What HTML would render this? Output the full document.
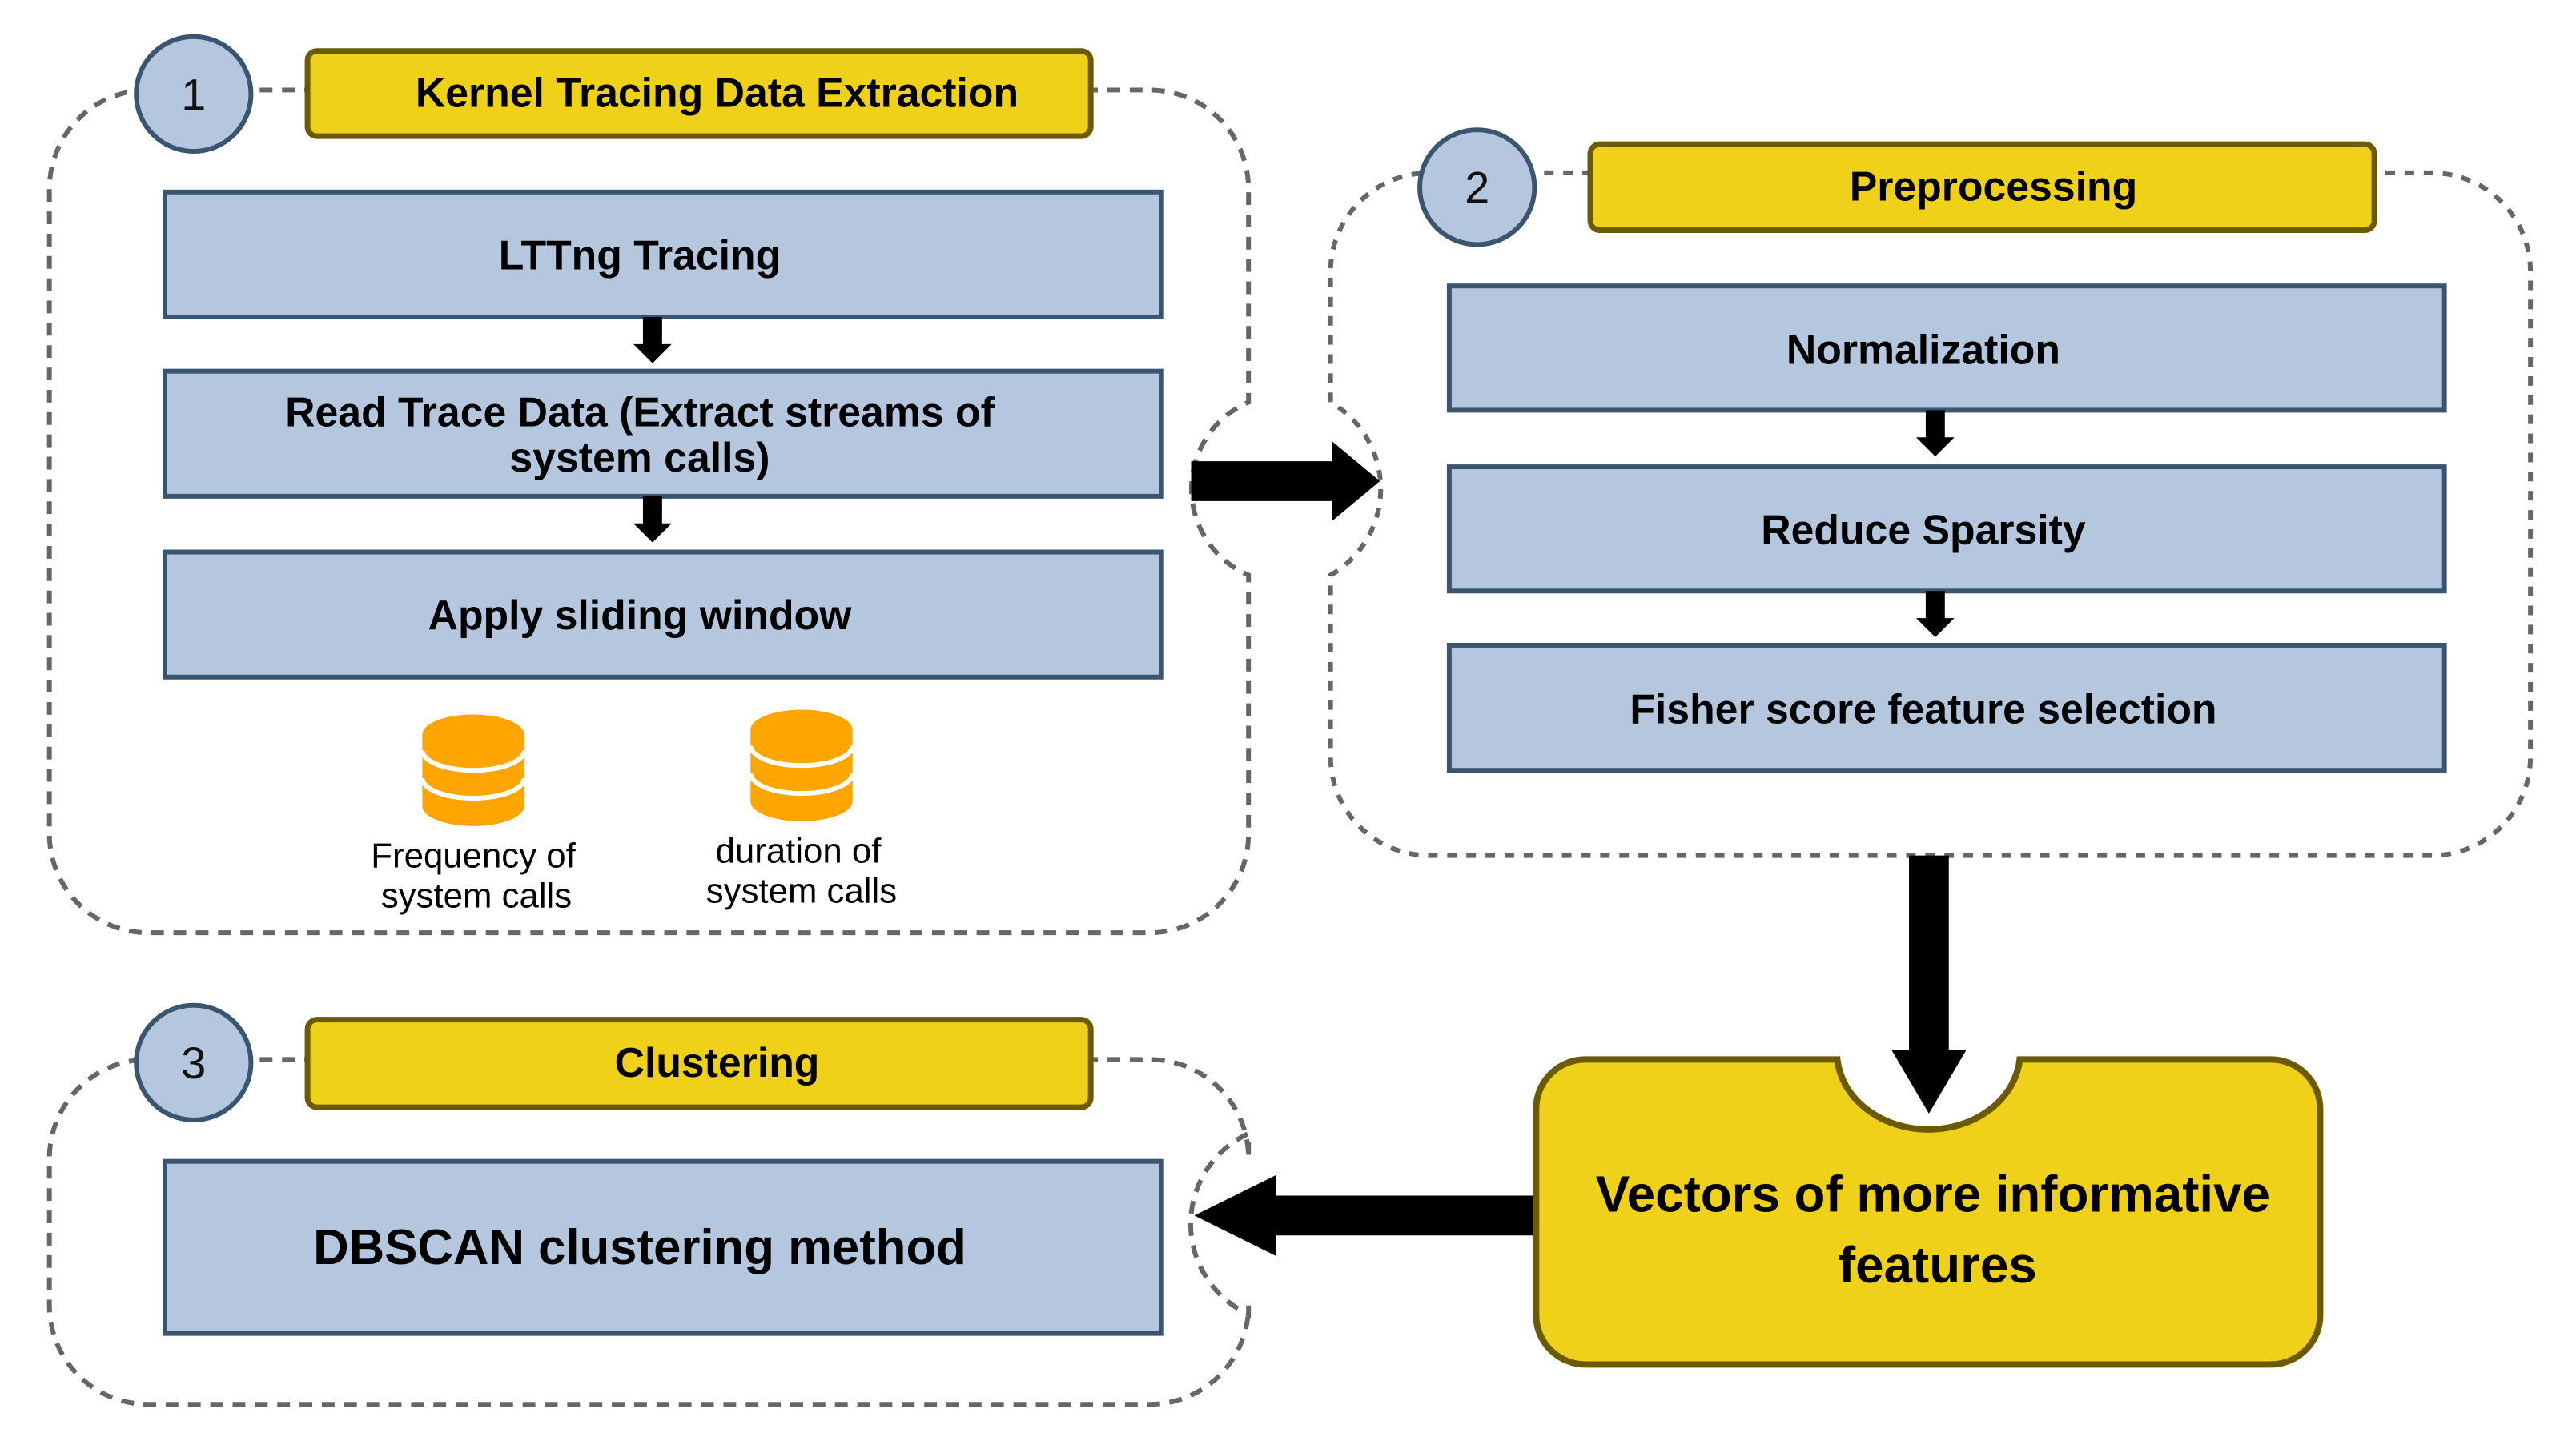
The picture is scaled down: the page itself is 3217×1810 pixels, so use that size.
<!DOCTYPE html>
<html><head><meta charset="utf-8"><style>
html,body{margin:0;padding:0;background:#fff;}
svg{display:block;}
text{font-family:"Liberation Sans",Arial,sans-serif;}
</style></head><body>
<svg width="3217" height="1810" viewBox="0 0 3217 1810" xmlns="http://www.w3.org/2000/svg">
<g transform="scale(0.995)">
<g fill="none" stroke="#666" stroke-width="6">
<path stroke-dasharray="16,12" d="M186,113 H1443 A124,124 0 0 1 1567,237 V505 A118,118 0 0 0 1567,722 V1047 A124,124 0 0 1 1443,1171 H186 A124,124 0 0 1 62,1047 V237 A124,124 0 0 1 186,113 Z"/>
<path stroke-dasharray="12,12" d="M1794,217 H3052 A124,124 0 0 1 3176,341 V950 A124,124 0 0 1 3052,1074 H1794 A124,124 0 0 1 1670,950 V722 A125,125 0 0 0 1670,505 V341 A124,124 0 0 1 1794,217 Z"/>
<path stroke-dasharray="16,12" d="M186,1330 H1443 A124,124 0 0 1 1567,1454 V1423 A125,125 0 0 0 1567,1650 V1639 A124,124 0 0 1 1443,1763 H186 A124,124 0 0 1 62,1639 V1454 A124,124 0 0 1 186,1330 Z"/>
</g>
<g fill="#b4c7de" stroke="#3a556f" stroke-width="6">
<circle cx="243" cy="118" r="72"/>
<circle cx="1854" cy="235" r="72"/>
<circle cx="243" cy="1334" r="72"/>
</g>
<g font-size="56" text-anchor="middle" fill="#111">
<text x="243" y="138">1</text>
<text x="1854" y="255">2</text>
<text x="243" y="1354">3</text>
</g>
<g fill="#f0d11a" stroke="#6b5a00" stroke-width="7">
<rect x="386" y="64" width="983" height="107" rx="12"/>
<rect x="1996" y="181" width="984" height="108" rx="12"/>
<rect x="386" y="1280" width="983" height="110" rx="12"/>
</g>
<g font-size="52" font-weight="bold" text-anchor="middle" fill="#000">
<text x="900" y="134">Kernel Tracing Data Extraction</text>
<text x="2502" y="252">Preprocessing</text>
<text x="900" y="1352">Clustering</text>
</g>
<g fill="#b4c7de" stroke="#3a556f" stroke-width="6">
<rect x="207" y="241" width="1251" height="157"/>
<rect x="207" y="466" width="1251" height="157"/>
<rect x="207" y="693" width="1251" height="157"/>
<rect x="1819" y="359" width="1249" height="156"/>
<rect x="1819" y="586" width="1249" height="156"/>
<rect x="1819" y="810" width="1249" height="157"/>
<rect x="207" y="1458" width="1251" height="216"/>
</g>
<g font-size="52" font-weight="bold" text-anchor="middle" fill="#000">
<text x="803" y="338">LTTng Tracing</text>
<text x="803" y="535">Read Trace Data (Extract streams of</text>
<text x="803" y="592">system calls)</text>
<text x="803" y="790">Apply sliding window</text>
<text x="2414" y="457">Normalization</text>
<text x="2414" y="683">Reduce Sparsity</text>
<text x="2414" y="908">Fisher score feature selection</text>
<text x="803" y="1587" font-size="62">DBSCAN clustering method</text>
</g>
<g fill="#000">
<path d="M807,398 h24 v34 h12 l-24,24 l-24,-24 h12 z"/>
<path d="M807,623 h24 v34 h12 l-24,24 l-24,-24 h12 z"/>
<path d="M2417,515 h24 v34 h12 l-24,24 l-24,-24 h12 z"/>
<path d="M2417,742 h24 v34 h12 l-24,24 l-24,-24 h12 z"/>
<path d="M1495,579 H1672 V554 L1732,604 L1672,654 V629 H1495 Z"/>
<path d="M2396,1074 H2446 V1318 H2468 L2421,1398 L2374,1318 H2396 Z"/>
<path d="M1928,1501 H1602 V1475 L1499,1526 L1602,1577 V1551 H1928 Z"/>
</g>
<path fill="#f0d11a" stroke="#6b5a00" stroke-width="8" d="M1990,1330 H2306 A115,97 0 0 0 2535,1330 H2850 A62,62 0 0 1 2912,1392 V1651 A62,62 0 0 1 2850,1713 H1990 A62,62 0 0 1 1928,1651 V1392 A62,62 0 0 1 1990,1330 Z"/>
<g font-size="64" font-weight="bold" text-anchor="middle" fill="#000">
<text x="2426" y="1521">Vectors of  more informative</text>
<text x="2432" y="1610">features</text>
</g>
<g>
<rect x="530" y="922" width="128" height="90" fill="#ffa500"/>
<ellipse cx="594" cy="922" rx="64" ry="25" fill="#ffa500"/>
<ellipse cx="594" cy="1012" rx="64" ry="25" fill="#ffa500"/>
<path d="M530,942 A64,25 0 0 0 658,942 M530,977 A64,25 0 0 0 658,977" stroke="#fff" stroke-width="6" fill="none"/>
</g>
<g>
<rect x="942" y="916" width="128" height="90" fill="#ffa500"/>
<ellipse cx="1006" cy="916" rx="64" ry="25" fill="#ffa500"/>
<ellipse cx="1006" cy="1006" rx="64" ry="25" fill="#ffa500"/>
<path d="M942,936 A64,25 0 0 0 1070,936 M942,971 A64,25 0 0 0 1070,971" stroke="#fff" stroke-width="6" fill="none"/>
</g>
<g font-size="44" text-anchor="middle" fill="#000">
<text x="594" y="1089">Frequency of</text>
<text x="598" y="1139">system calls</text>
<text x="1002" y="1083">duration of</text>
<text x="1006" y="1133">system calls</text>
</g>
</g>
</svg>
</body></html>
